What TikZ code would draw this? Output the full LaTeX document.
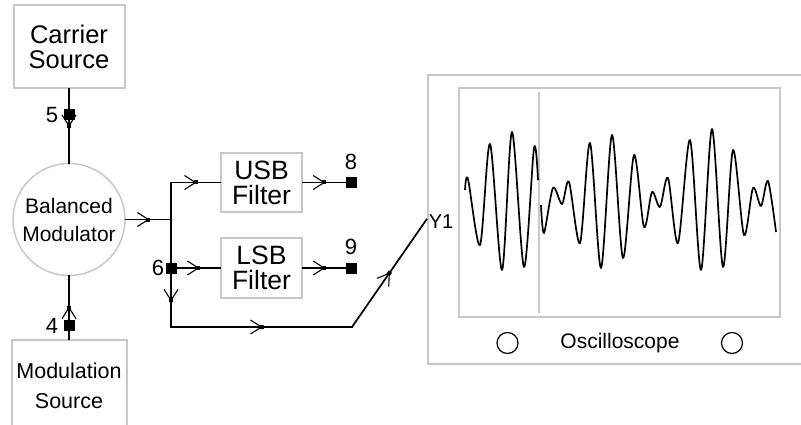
\documentclass[tikz,border=0pt]{standalone}
\usepackage{fontspec}
\setmainfont{Liberation Sans}
\usetikzlibrary{decorations.markings}
\definecolor{boxgray}{RGB}{200,200,200}
\begin{document}
\begin{tikzpicture}[x=1pt,y=-1pt,
  box/.style={draw=boxgray, line width=2pt, inner sep=0pt, align=center},
  term/.style={fill=black, minimum size=11pt, inner sep=0pt},
  wire/.style={line width=1.7pt, line cap=rect},
  flow/.style={postaction={decorate}, decoration={markings, mark=at position 0.5 with {\draw[line width=1.1pt, line cap=butt] (-11pt,7pt) -- (0pt,0pt) -- (-11pt,-7pt); \fill (-2pt,-2pt) rectangle (2pt,2pt);}}},
  lbl/.style={font=\fontsize{22}{22}\selectfont, inner sep=0pt},
  wave/.style={line width=1.7pt, line join=round}]
\useasboundingbox (0,0) rectangle (801,425);
\clip (0,0) rectangle (801,425);

% blocks
\node[box, minimum width=111pt, minimum height=83pt, font=\fontsize{25.5}{25}\selectfont] (carrier) at (69,46.5) {Carrier\\Source};
\node[circle, draw=boxgray, line width=1.5pt, minimum size=112pt, inner sep=0pt, align=center, font=\fontsize{21}{28}\selectfont] (bm) at (69,219.5) {Balanced\\Modulator};
\node[box, minimum width=115pt, minimum height=92pt, font=\fontsize{21.5}{30}\selectfont] (mod) at (69,386) {Modulation\\Source};
\node[box, minimum width=81pt, minimum height=59pt, font=\fontsize{26.5}{25}\selectfont] (usb) at (261.5,182.5) {USB\\Filter};
\node[box, minimum width=81pt, minimum height=60pt, font=\fontsize{26.5}{25}\selectfont] (lsb) at (261.5,268) {LSB\\Filter};

% oscilloscope
\node[draw=boxgray, line width=2pt, minimum width=379pt, minimum height=289pt, inner sep=0pt] (osc) at (617,219.5) {};
\node[draw=boxgray, line width=2pt, minimum width=321pt, minimum height=229pt, inner sep=0pt] (screen) at (619.5,202.5) {};
\coordinate (trtop) at (539,92);
\coordinate (trbot) at (539,313);
\draw[boxgray, line width=1.5pt] (trtop) -- (trbot);
\node[circle, draw, line width=1.2pt, minimum size=21pt, inner sep=0pt] (k1) at (507.5,343) {};
\node[circle, draw, line width=1.2pt, minimum size=21pt, inner sep=0pt] (k2) at (732,343) {};
\node[font=\fontsize{21}{21}\selectfont, inner sep=0pt] (osclbl) at (620,343) {Oscilloscope};
\node[font=\fontsize{20}{20}\selectfont, inner sep=0pt] (y1) at (441,222) {Y1};

% waveform
\draw[wave] plot[smooth, tension=0.5] coordinates {(465,190) (468,179) (480,245) (490,144) (502,270) (512,132) (524,267) (534,148) (538,180)};
\draw[wave] plot[smooth, tension=0.5] coordinates {(541,205) (544,233) (553,188) (562,204) (569,182) (580,243) (590,143) (601,268) (612,135) (623,258) (634,155) (644,227) (652,192) (660,207) (668,178) (678,243) (690,140) (701,270) (712,129) (723,267) (733,150) (744,235) (753,188) (761,206) (768,181) (776,232)};

% junctions and terminals
\coordinate (j) at (171,219.5);
\coordinate (jt) at (171,182.5);
\coordinate (jb) at (171,327);
\coordinate (jr) at (352,327);
\node[term] (t5) at (69,115) {};
\node[term] (t4) at (69,325) {};
\node[term] (t6) at (171,268) {};
\node[term] (t8) at (351,182.5) {};
\node[term] (t9) at (351,268) {};

% connectors
\draw[wire,flow] (carrier.south) -- (bm.north);
\draw[wire,flow] (mod.north) -- (bm.south);
\draw[wire,flow] (bm.east) -- (j);
\draw[wire] (jt) -- (j) -- (t6.center);
\draw[wire,flow] (jt) -- (usb.west);
\draw[wire,flow] (usb.east) -- (t8);
\draw[wire,flow] (t6) -- (lsb.west);
\draw[wire,flow] (lsb.east) -- (t9);
\draw[wire,flow] (t6) -- (jb);
\draw[wire,flow] (jb) -- (jr);
\draw[wire,flow] (jr) -- (osc.west);

% redraw terminals on top
\node[term] at (t5) {};
\node[term] at (t4) {};
\node[term] at (t6) {};

% terminal labels
\node[lbl] (l5) at (52,115) {5};
\node[lbl] (l4) at (52,326) {4};
\node[lbl] (l6) at (158,268) {6};
\node[lbl] (l8) at (351,162) {8};
\node[lbl] (l9) at (351,247) {9};
\end{tikzpicture}
\end{document}
